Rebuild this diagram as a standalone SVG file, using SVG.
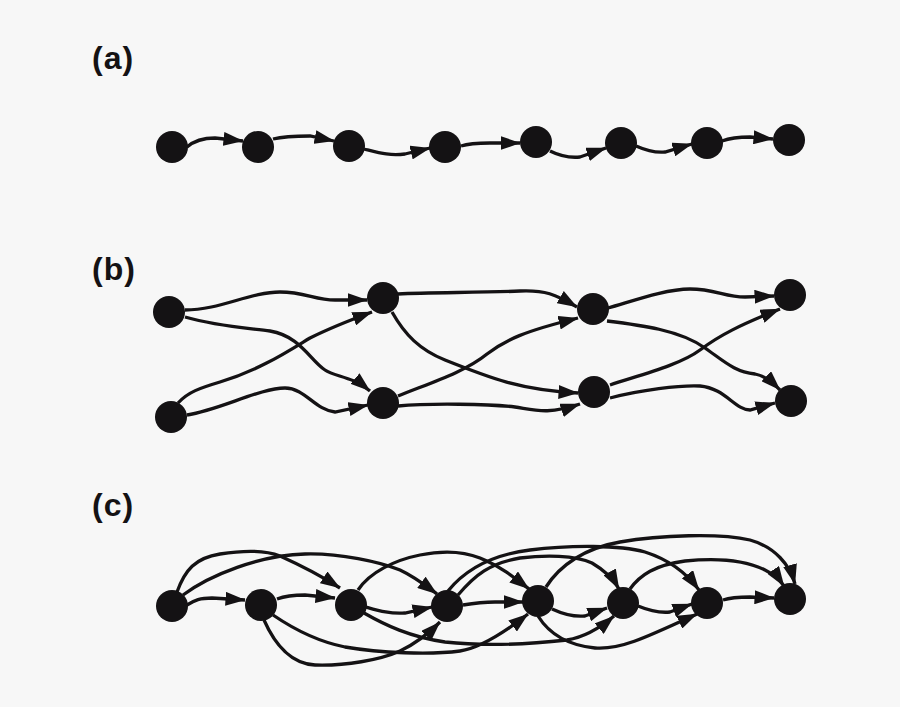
<svg xmlns="http://www.w3.org/2000/svg" width="900" height="707" viewBox="0 0 900 707">
<style>
.n{fill:#141214}
.e{fill:none;stroke:#141214;stroke-width:3.3;marker-end:url(#ah)}
.lbl{font-family:"Liberation Sans",Arial,sans-serif;font-weight:bold;font-size:32px;letter-spacing:1px;fill:#141214}
</style>
<defs>
<marker id="ah" viewBox="0 0 20 14" refX="19.5" refY="7" markerWidth="20" markerHeight="14" orient="auto" markerUnits="userSpaceOnUse"><path d="M0,0 L20,7 L0,14 z" fill="#141214"/></marker>
</defs>
<rect width="900" height="707" fill="#f7f7f7"/>
<text class="lbl" x="92" y="69">(a)</text>
<text class="lbl" x="92" y="280">(b)</text>
<text class="lbl" x="92" y="516">(c)</text>
<g id="connectors">
<!-- (a) -->
<path class="e" d="M187,147 C195,140 205,138 215,138 L243,141"/>
<path class="e" d="M273,139 C285,136 300,136 310,136 L334,141"/>
<path class="e" d="M364,149 C380,153 390,156 405,154 L430,148"/>
<path class="e" d="M461,146 C470,143 480,143 490,143 L520,143"/>
<path class="e" d="M550,151 C560,156 570,158 580,157 L606,148"/>
<path class="e" d="M636,146 C645,150 655,153 665,152 L692,144"/>
<path class="e" d="M722,141 C730,138 740,137 750,137 L773,139"/>
<!-- (b) -->
<path class="e" d="M185,310 C220,310 250,292 280,292 C305,292 315,300 335,300 L367,300"/>
<path class="e" d="M185,317 C220,327 250,328 270,331 C300,336 310,360 325,370 C335,377 352,376 370,391"/>
<path class="e" d="M178,403 C188,392 200,388 220,382 C260,370 290,350 310,338 C330,328 345,322 372,312"/>
<path class="e" d="M187,415 C220,410 260,388 285,388 C305,388 315,410 335,412 L368,405"/>
<path class="e" d="M398,294 C430,292 480,293 520,291 C545,290 555,294 577,307"/>
<path class="e" d="M392,312 C405,335 420,350 445,360 C490,378 520,390 578,393"/>
<path class="e" d="M398,396 C430,383 465,372 487,354 C505,340 525,331 578,318"/>
<path class="e" d="M398,406 C430,403 490,404 515,407 C535,410 548,415 580,404"/>
<path class="e" d="M608,308 C630,302 665,289 690,289 C715,289 725,297 745,297 L774,296"/>
<path class="e" d="M607,321 C640,325 680,330 705,348 C725,362 735,372 755,374 C765,376 772,382 780,390"/>
<path class="e" d="M610,385 C640,375 680,365 700,350 C720,335 740,325 780,309"/>
<path class="e" d="M610,398 C640,390 680,385 700,386 C725,388 735,410 750,410 L775,403"/>
<!-- (c) -->
<path class="e" d="M187,605 C195,600 200,598 212,598 L245,600"/>
<path class="e" d="M277,599 C285,596 295,595 305,595 L335,598"/>
<path class="e" d="M366,607 C380,611 390,614 405,613 L432,607"/>
<path class="e" d="M463,605 C475,603 485,602 495,602 L523,602"/>
<path class="e" d="M552,609 C565,615 575,617 585,616 L607,608"/>
<path class="e" d="M638,606 C650,611 660,613 670,612 L692,604"/>
<path class="e" d="M723,600 C732,597 740,597 750,597 L774,598"/>
<path class="e" d="M177,592 C185,570 195,558 220,554 C245,550 265,550 280,556 C300,565 320,575 340,588"/>
<path class="e" d="M183,595 C210,575 260,555 305,554 C340,553 380,562 400,570 C415,577 425,585 437,594"/>
<path class="e" d="M358,590 C370,572 395,560 420,555 C445,550 465,552 480,558 C500,566 515,578 529,589"/>
<path class="e" d="M448,591 C465,570 490,555 530,550 C570,545 620,545 645,552 C670,560 688,575 699,590"/>
<path class="e" d="M458,595 C475,575 490,563 520,558 C545,555 575,555 592,563 C604,570 613,578 619,589"/>
<path class="e" d="M546,587 C560,565 585,548 620,542 C660,535 720,533 750,540 C775,547 790,565 795,584"/>
<path class="e" d="M630,589 C640,575 655,565 685,561 C715,558 745,560 765,570 C775,575 780,580 784,586"/>
<path class="e" d="M264,620 C275,645 292,664 315,665 C345,666 380,660 400,651 C415,644 428,634 440,622"/>
<path class="e" d="M273,615 C295,630 320,642 345,647 C380,653 430,655 460,651 C480,648 505,632 528,614"/>
<path class="e" d="M364,613 C385,625 410,637 445,642 C490,647 540,643 567,640 C585,637 600,628 614,616"/>
<path class="e" d="M538,616 C548,632 565,645 595,648 C620,650 645,638 697,614"/>
</g>
<g id="nodes-a">
<circle id="a0" class="n" cx="172" cy="147" r="16"/>
<circle id="a1" class="n" cx="258" cy="147" r="16"/>
<circle id="a2" class="n" cx="349" cy="146" r="16"/>
<circle id="a3" class="n" cx="445" cy="147" r="16"/>
<circle id="a4" class="n" cx="536" cy="142" r="16"/>
<circle id="a5" class="n" cx="621" cy="143" r="16"/>
<circle id="a6" class="n" cx="707" cy="143" r="16"/>
<circle id="a7" class="n" cx="789" cy="140" r="16"/>
</g>
<g id="nodes-b">
<circle id="b0" class="n" cx="169" cy="312" r="16"/>
<circle id="b1" class="n" cx="171" cy="417" r="16"/>
<circle id="b2" class="n" cx="383" cy="298" r="16"/>
<circle id="b3" class="n" cx="383" cy="403" r="16"/>
<circle id="b4" class="n" cx="593" cy="309" r="16"/>
<circle id="b5" class="n" cx="594" cy="392" r="16"/>
<circle id="b6" class="n" cx="790" cy="295" r="16"/>
<circle id="b7" class="n" cx="791" cy="401" r="16"/>
</g>
<g id="nodes-c">
<circle id="c0" class="n" cx="172" cy="606" r="16"/>
<circle id="c1" class="n" cx="261" cy="605" r="16"/>
<circle id="c2" class="n" cx="351" cy="605" r="16"/>
<circle id="c3" class="n" cx="447" cy="606" r="16"/>
<circle id="c4" class="n" cx="538" cy="601" r="16"/>
<circle id="c5" class="n" cx="623" cy="603" r="16"/>
<circle id="c6" class="n" cx="707" cy="603" r="16"/>
<circle id="c7" class="n" cx="790" cy="599" r="16"/>
</g>
</svg>
